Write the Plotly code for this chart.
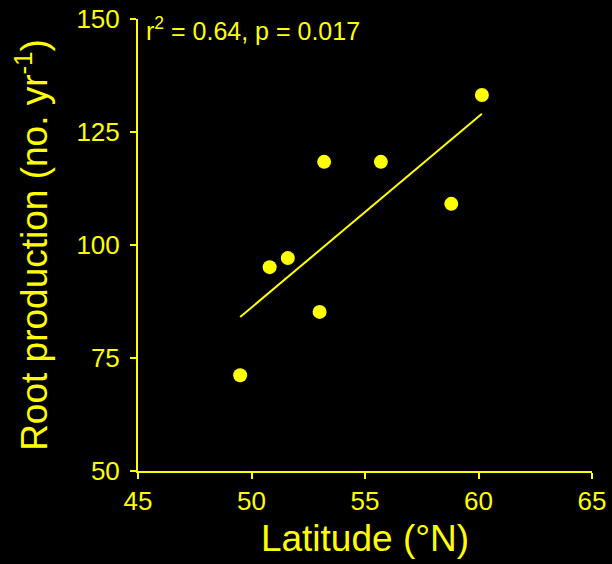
import numpy as np
import plotly.graph_objects as go

latitude = [49.5, 50.8, 51.6, 53.0, 53.2, 55.7, 58.8, 60.15]
root_production = [71.2, 95.1, 97.1, 85.2, 118.4, 118.4, 109.1, 133.2]
x_ticks = [45, 50, 55, 60, 65]
y_ticks = [50, 75, 100, 125, 150]

YEL = "#FFFF00"
FONT = "Liberation Sans, Arial, sans-serif"

slope, intercept = np.polyfit(latitude, root_production, 1)
fx = [min(latitude), max(latitude)]
fy = [slope * v + intercept for v in fx]

fig = go.Figure()
fig.add_trace(go.Scatter(x=fx, y=fy, mode="lines", line=dict(color=YEL, width=2), hoverinfo="skip"))
fig.add_trace(go.Scatter(x=latitude, y=root_production, mode="markers",
                         marker=dict(color=YEL, size=14, line=dict(width=0))))

fig.add_annotation(x=0, y=1, xref="paper", yref="paper", xanchor="left", yanchor="top",
                   xshift=6, yshift=8,
                   text="r<sup>2</sup> = 0.64, p = 0.017", showarrow=False,
                   font=dict(family=FONT, size=25, color=YEL))

fig.update_layout(
    template="none",
    width=612, height=564,
    paper_bgcolor="black", plot_bgcolor="black",
    margin=dict(l=138, r=20, t=19, b=93, autoexpand=False),
    showlegend=False,
    font=dict(family=FONT, color=YEL),
)
fig.update_xaxes(range=[45, 65], tickvals=x_ticks, ticks="outside", ticklen=6, tickwidth=2,
                 tickcolor=YEL, showline=True, linecolor=YEL, linewidth=2, showgrid=False,
                 zeroline=False, automargin=False, tickfont=dict(size=26, color=YEL, family=FONT),
                 title=dict(text="Latitude (°N)", font=dict(size=37, color=YEL, family=FONT), standoff=10))
fig.update_yaxes(range=[50, 150], tickvals=y_ticks, ticks="outside", ticklen=6, tickwidth=2,
                 tickcolor=YEL, showline=True, linecolor=YEL, linewidth=2, showgrid=False,
                 zeroline=False, automargin=False, ticklabelstandoff=5,
                 tickfont=dict(size=26, color=YEL, family=FONT),
                 title=dict(text="Root production (no. yr<sup>-1</sup>)", font=dict(size=37, color=YEL, family=FONT), standoff=17))

fig.write_html("out.html", config={"displayModeBar": False},
               post_script="document.body.style.margin='0';document.body.style.background='black';")
